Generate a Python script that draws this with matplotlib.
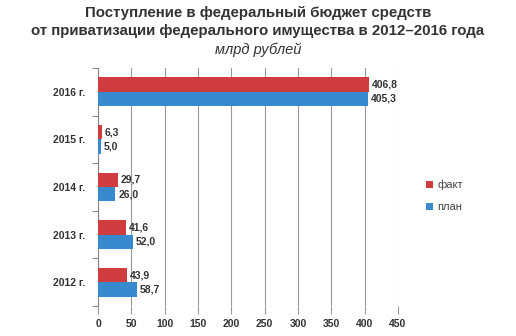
import numpy as np
import matplotlib.pyplot as plt

plt.rcParams['font.family'] = ['Liberation Sans', 'DejaVu Sans']

years = ['2012 г.', '2013 г.', '2014 г.', '2015 г.', '2016 г.']
fact = [43.9, 41.6, 29.7, 6.3, 406.8]
plan = [58.7, 52.0, 26.0, 5.0, 405.3]
xticks = [0, 50, 100, 150, 200, 250, 300, 350, 400, 450]

RED = '#d13d3f'
BLUE = '#3989cf'
TXT = '#333333'


def fmt(v):
    return f'{v:.1f}'.replace('.', ',')


fig = plt.figure(figsize=(5.16, 3.36), dpi=100)
ax = fig.add_axes([0.19, 0.089, 0.581, 0.709])

y = np.arange(len(years))
h = 0.3
bars_fact = ax.barh(y + h / 2, fact, height=h, color=RED, label='факт', zorder=3)
bars_plan = ax.barh(y - h / 2, plan, height=h, color=BLUE, label='план', zorder=3)

for bars, vals in ((bars_fact, fact), (bars_plan, plan)):
    for b, v in zip(bars, vals):
        ax.annotate(fmt(v), (v, b.get_y() + b.get_height() / 2), xytext=(2, 0),
                    textcoords='offset points', va='center', ha='left',
                    fontsize=7.5, fontweight='bold', color=TXT)

ax.set_xlim(0, 450)
ax.set_ylim(-0.5, 4.5)
ax.set_xticks(xticks)
ax.set_xticklabels([str(t) for t in xticks], fontsize=7.5, fontweight='bold', color=TXT)
ax.set_yticks(y)
ax.set_yticklabels(years, fontsize=7.5, fontweight='bold', color=TXT)
ax.set_yticks(np.arange(-0.5, 5, 1), minor=True)
ax.tick_params(axis='y', which='major', length=0, pad=9)
ax.tick_params(axis='y', which='minor', length=4, color='#888888', width=0.8)
ax.tick_params(axis='x', length=6, color='#999999', width=0.8, pad=3)
ax.grid(axis='x', color='#999999', linewidth=0.8, zorder=0)
for s in ('top', 'right', 'bottom'):
    ax.spines[s].set_visible(False)
ax.spines['left'].set_color('#888888')
ax.spines['left'].set_linewidth(0.8)

leg = ax.legend(handles=[bars_fact, bars_plan], loc='center left', bbox_to_anchor=(1.06, 0.462),
                frameon=False, fontsize=8, handlelength=0.65, handleheight=0.65,
                labelspacing=1.1, handletextpad=0.4)
for t in leg.get_texts():
    t.set_color('#444444')

fig.text(0.5, 0.961, 'Поступление в федеральный бюджет средств', ha='center', va='center',
         fontsize=10.8, fontweight='bold', color=TXT)
fig.text(0.5, 0.908, 'от приватизации федерального имущества в 2012–2016 года', ha='center',
         va='center', fontsize=10.8, fontweight='bold', color=TXT)
fig.text(0.5, 0.853, 'млрд рублей', ha='center', va='center', fontsize=10.5,
         style='italic', color=TXT)

fig.savefig('out.png', dpi=100)
